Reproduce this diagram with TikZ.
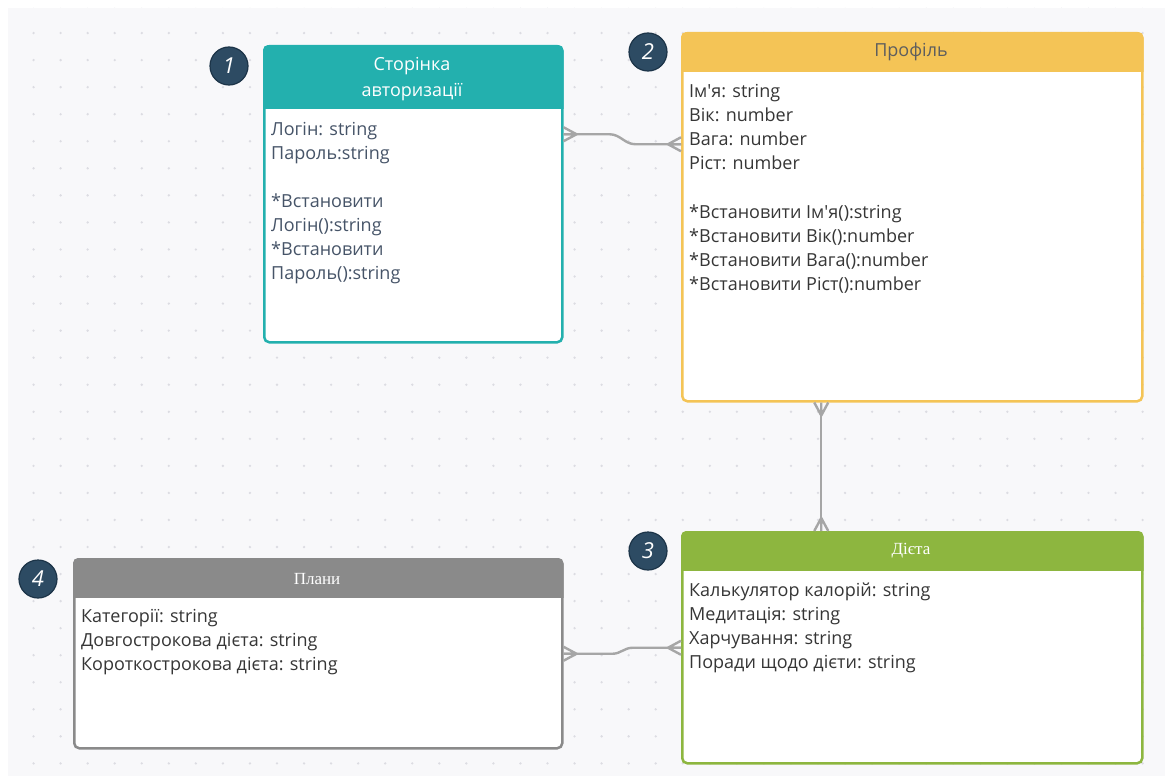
\documentclass[tikz,border=0pt]{standalone}
\usepackage{fontspec}
\setmainfont{Open Sans}
\newfontfamily\hdserif{Liberation Serif}
\usetikzlibrary{calc}
\definecolor{panel}{HTML}{F8F8FA}
\definecolor{dotc}{HTML}{DCDCE2}
\definecolor{tealc}{HTML}{23B0AE}
\definecolor{yellowc}{HTML}{F4C456}
\definecolor{greenc}{HTML}{8DB63F}
\definecolor{grayc}{HTML}{8A8A8A}
\definecolor{linkc}{HTML}{A6A6A6}
\definecolor{numfill}{HTML}{2D4B63}
\definecolor{numring}{HTML}{1C3448}
\definecolor{slate}{HTML}{465468}
\definecolor{ink}{HTML}{363636}
\tikzset{
  tbl/.style={draw=#1, line width=2.5pt, rounded corners=5pt, fill=white,
    anchor=north west, inner sep=0pt},
  % base of a multi-line node = baseline of its last line
  body/.style={anchor=base west, align=left, inner sep=0pt, text=ink,
    font=\fontsize{18}{24}\selectfont},
  link/.style={draw=linkc, line width=2.4pt, line join=round},
  num/.style={circle, fill=numfill, draw=numring, line width=1.2pt,
    minimum size=38pt, inner sep=0pt, text=white,
    font=\fontsize{22}{22}\selectfont\itshape},
  crow/.pic={\draw[link] (0,7pt) -- (13pt,0) -- (0,-7pt) (0,0) -- (13pt,0);}
}

\begin{document}
\begin{tikzpicture}[x=1pt,y=-1pt]
\useasboundingbox (0,0) rectangle (1165,776);
\fill[white] (0,0) rectangle (1165,776);
\fill[panel] (8,8) rectangle (1165,776);
% dotted grid
\begin{scope}
  \clip (8,8) rectangle (1165,776);
  \foreach \i in {0,...,43}
    \foreach \j in {0,...,28}
      \fill[dotc] (6.5+27.05*\i,6+27.05*\j) circle (1.3pt);
\end{scope}

% tables
\node[tbl=tealc, minimum width=298pt, minimum height=296pt] (login) at (263,45) {};
\node[tbl=yellowc, minimum width=460pt, minimum height=368pt] (profile) at (681,32) {};
\node[tbl=greenc, minimum width=460pt, minimum height=231pt] (dieta) at (681,531) {};
\node[tbl=grayc, minimum width=488pt, minimum height=189pt] (plans) at (73,558) {};

% header bands
\begin{scope}
  \clip[rounded corners=5pt] (login.north west) rectangle (login.south east);
  \fill[tealc] (login.north west) rectangle ($(login.north east)+(0,64)$);
\end{scope}
\begin{scope}
  \clip[rounded corners=5pt] (profile.north west) rectangle (profile.south east);
  \fill[yellowc] (profile.north west) rectangle ($(profile.north east)+(0,40)$);
\end{scope}
\begin{scope}
  \clip[rounded corners=5pt] (dieta.north west) rectangle (dieta.south east);
  \fill[greenc] (dieta.north west) rectangle ($(dieta.north east)+(0,40)$);
\end{scope}
\begin{scope}
  \clip[rounded corners=5pt] (plans.north west) rectangle (plans.south east);
  \fill[grayc] (plans.north west) rectangle ($(plans.north east)+(0,40)$);
\end{scope}

% titles
\node[align=center, text=white, font=\fontsize{18}{26}\selectfont] (loginT) at (412,79)
  {Сторінка\\авторизації};
\node[text=ink!80, font=\fontsize{18}{18}\selectfont] (profileT) at (911,52) {Профіль};
\node[text=white, font=\hdserif\fontsize{17}{17}\selectfont] (dietaT) at (911,551) {Дієта};
\node[text=white, font=\hdserif\fontsize{17}{17}\selectfont] (plansT) at (317,579) {Плани};

% fields
\node[body, text=slate] (loginB) at (271,279)
  {Логін: string\\Пароль:string\\[24pt]*Встановити\\Логін():string\\*Встановити\\Пароль():string};
\node[body] (profileB) at (689,290)
  {Ім\textquotesingle я: string\\Вік: number\\Вага: number\\Ріст: number\\[25pt]*Встановити Ім\textquotesingle я():string\\*Встановити Вік():number\\*Встановити Вага():number\\*Встановити Ріст():number};
\node[body] (dietaB) at (689,668)
  {Калькулятор калорій: string\\Медитація: string\\Харчування: string\\Поради щодо дієти: string};
\node[body] (plansB) at (81,670)
  {Категорії: string\\Довгострокова дієта: string\\Короткострокова дієта: string};

% numbers
\node[num] (n1) at (229,66) {1};
\node[num] (n2) at (648,52) {2};
\node[num] (n3) at (648,551) {3};
\node[num] (n4) at (38,579) {4};

% relations
\draw[link] ([yshift=60pt]login.east) -- ++(46,0) to[out=0,in=180] ++(26,10)
  -- ([yshift=73pt]profile.west);
\pic at ([yshift=60pt]login.east) {crow};
\pic[rotate=180] at ([yshift=73pt]profile.west) {crow};
\draw[link] ([xshift=-91pt]profile.south) -- ([xshift=-91pt]dieta.north);
\pic[rotate=-90] at ([xshift=-91pt]profile.south) {crow};
\pic[rotate=90] at ([xshift=-91pt]dieta.north) {crow};
\draw[link] (plans.east) -- ++(49,0) to[out=0,in=180] ++(20,-6) -- (dieta.west);
\pic at (plans.east) {crow};
\pic[rotate=180] at (dieta.west) {crow};
\end{tikzpicture}
\end{document}
